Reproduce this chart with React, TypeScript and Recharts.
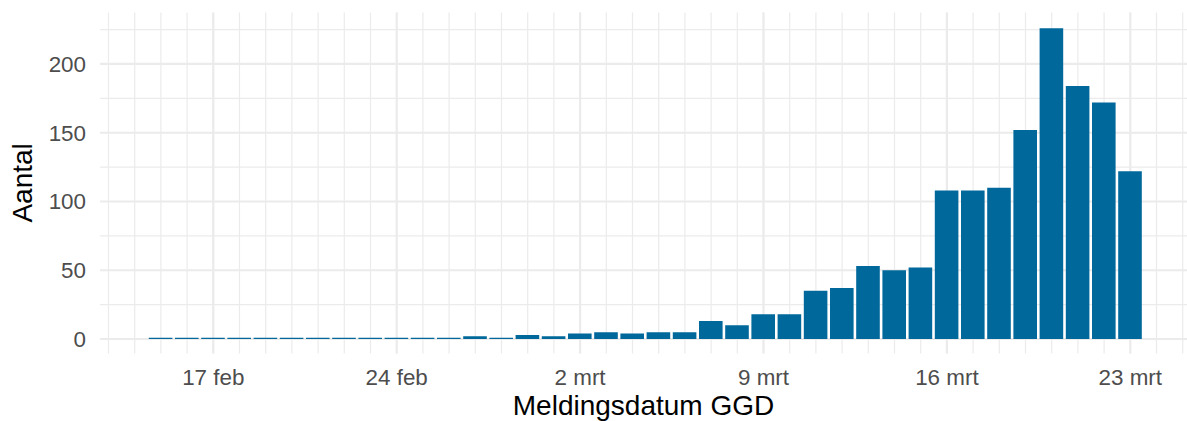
import React from 'react';
import { BarChart, Bar, XAxis, YAxis, CartesianGrid } from 'recharts';

// Day labels (index 0 = 15 feb 2020 ... index 37 = 23 mrt 2020)
const dayLabels: string[] = [
  '15 feb', '16 feb', '17 feb', '18 feb', '19 feb', '20 feb', '21 feb', '22 feb',
  '23 feb', '24 feb', '25 feb', '26 feb', '27 feb', '28 feb', '29 feb',
  '1 mrt', '2 mrt', '3 mrt', '4 mrt', '5 mrt', '6 mrt', '7 mrt', '8 mrt', '9 mrt',
  '10 mrt', '11 mrt', '12 mrt', '13 mrt', '14 mrt', '15 mrt', '16 mrt', '17 mrt',
  '18 mrt', '19 mrt', '20 mrt', '21 mrt', '22 mrt', '23 mrt',
];

const counts: number[] = [
  1, 1, 1, 1, 1, 1, 1, 1, 1, 1, 1, 1, 2, 1, 3,
  2, 4, 5, 4, 5, 5, 13, 10, 18,
  18, 35, 37, 53, 50, 52, 108, 108,
  110, 152, 226, 184, 172, 122,
];

const majorXTicks: number[] = [2, 9, 16, 23, 30, 37];
const minorXTicks: number[] = Array.from({ length: 42 }, (_, i) => i - 2);
const majorYTicks: number[] = [0, 50, 100, 150, 200];
const minorYTicks: number[] = [25, 75, 125, 175, 225];

const data = counts.map((v, i) => ({ day: i, label: dayLabels[i], v }));

const X_DOMAIN: [number, number] = [-2.324, 39.164];
const Y_DOMAIN: [number, number] = [-10.47, 237.5];

const FONT = '"Liberation Sans", Arial, Helvetica, sans-serif';

const applyScale = (axis: any, v: number): number => {
  const s = axis && axis.scale;
  if (typeof s === 'function') return s(v);
  if (s && typeof s.map === 'function') return s.map(v);
  return NaN;
};

const vGen = (ticks: number[]) => (props: any) =>
  ticks.map((t) => applyScale(props.xAxis, t)).filter((p) => Number.isFinite(p));
const hGen = (ticks: number[]) => (props: any) =>
  ticks.map((t) => applyScale(props.yAxis, t)).filter((p) => Number.isFinite(p));

export default function App() {
  return (
    <div style={{ position: 'absolute', left: 0, top: 0, width: 1187, height: 421, background: '#fff', fontFamily: FONT }}>
      <BarChart
        width={1187}
        height={421}
        data={data}
        margin={{ top: 12.4, right: 0, bottom: 0, left: 0 }}
      >
        <CartesianGrid
          stroke="#EBEBEB"
          strokeWidth={1.2}
          verticalCoordinatesGenerator={vGen(minorXTicks)}
          horizontalCoordinatesGenerator={hGen(minorYTicks)}
        />
        <CartesianGrid
          stroke="#EBEBEB"
          strokeWidth={2.2}
          verticalCoordinatesGenerator={vGen(majorXTicks)}
          horizontalCoordinatesGenerator={hGen(majorYTicks)}
        />
        <XAxis
          dataKey="day"
          type="number"
          domain={X_DOMAIN}
          allowDataOverflow
          ticks={majorXTicks}
          interval={0}
          tickFormatter={(d: number) => dayLabels[d] ?? ''}
          axisLine={false}
          tickLine={false}
          tickSize={0}
          tickMargin={16}
          height={67.6}
          tick={{ fill: '#4D4D4D', fontSize: 22.4, fontFamily: FONT }}
          label={{
            value: 'Meldingsdatum GGD',
            position: 'insideBottom',
            offset: 6,
            fill: '#000000',
            fontSize: 28,
            fontFamily: FONT,
          }}
        />
        <YAxis
          type="number"
          domain={Y_DOMAIN}
          allowDataOverflow
          ticks={majorYTicks}
          interval={0}
          axisLine={false}
          tickLine={false}
          tickSize={0}
          tickMargin={14}
          width={100}
          tick={{ fill: '#4D4D4D', fontSize: 22.4, fontFamily: FONT }}
          label={{
            value: 'Aantal',
            angle: -90,
            position: 'center',
            dx: -27.5,
            fill: '#000000',
            fontSize: 28,
            fontFamily: FONT,
          }}
        />
        <Bar
          dataKey="v"
          fill="#01689B"
          barSize={23.6}
          isAnimationActive={false}
        />
      </BarChart>
    </div>
  );
}
